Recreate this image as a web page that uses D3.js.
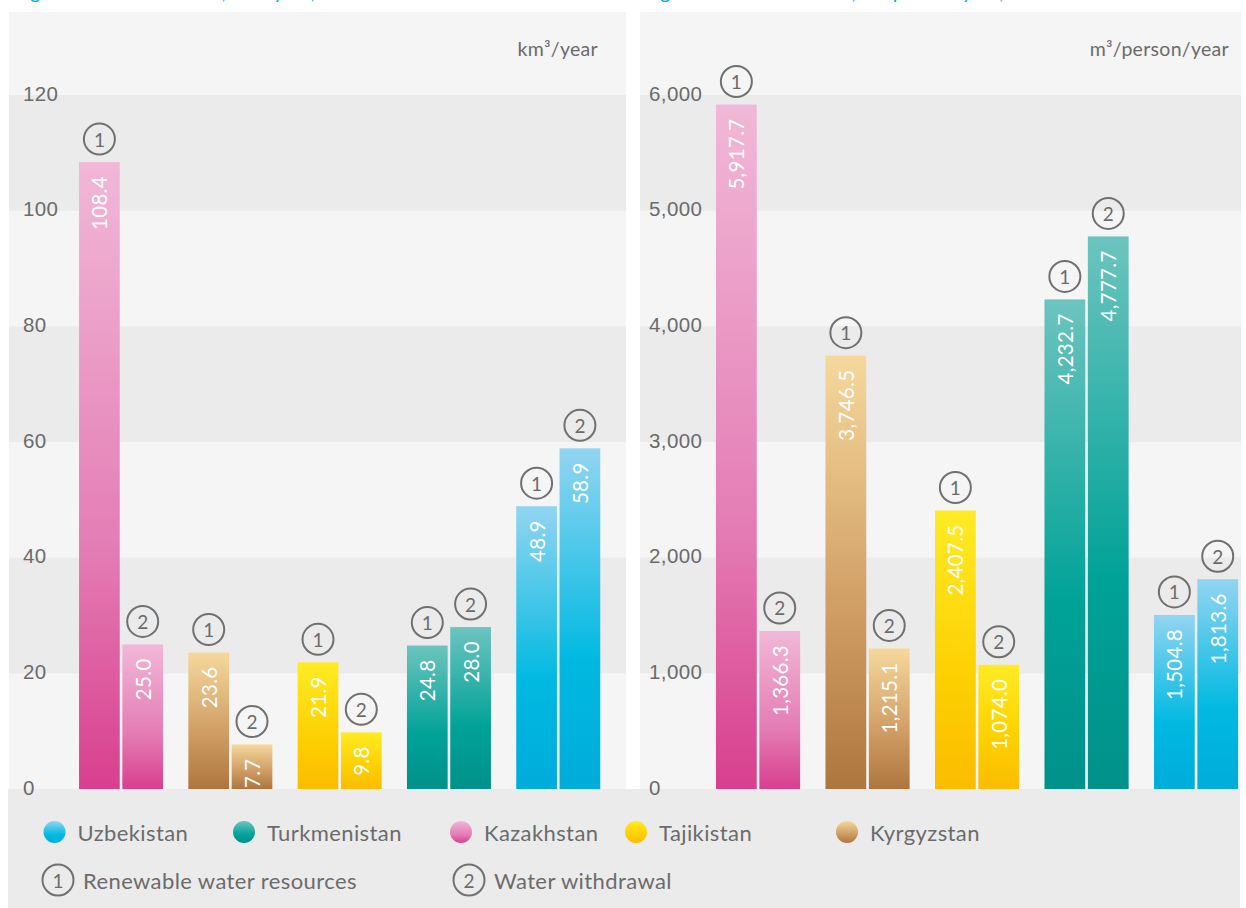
<!DOCTYPE html>
<html>
<head>
<meta charset="utf-8">
<script src="https://cdn.jsdelivr.net/npm/d3@7"></script>
<style>
  body { margin: 0; background: #fff; }
  svg { display: block; font-family: Lato, "Noto Sans", sans-serif; }
</style>
</head>
<body>
<svg id="chart" width="1246" height="908"></svg>
<script>
var countries = ['Kazakhstan', 'Kyrgyzstan', 'Tajikistan', 'Turkmenistan', 'Uzbekistan'];
var volumeRenewable = [108.4, 23.6, 21.9, 24.8, 48.9];
var volumeWithdrawal = [25.0, 7.7, 9.8, 28.0, 58.9];
var perCapitaRenewable = [5917.7, 3746.5, 2407.5, 4232.7, 1504.8];
var perCapitaWithdrawal = [1366.3, 1215.1, 1074.0, 4777.7, 1813.6];
var volumeTicks = [0, 20, 40, 60, 80, 100, 120];
var perCapitaTicks = [0, 1000, 2000, 3000, 4000, 5000, 6000];
var legendOrder = ['Uzbekistan', 'Turkmenistan', 'Kazakhstan', 'Tajikistan', 'Kyrgyzstan'];
var seriesLabels = ['Renewable water resources', 'Water withdrawal'];

// top / middle / bottom colour of each country's gradient
var gradStops = {
  Kazakhstan:   ['#f1b8d7', '#e47cb4', '#d83f8e'],
  Kyrgyzstan:   ['#f6d89c', '#cd9a62', '#ae763f'],
  Tajikistan:   ['#ffeb24', '#fdcf00', '#fbbc00'],
  Turkmenistan: ['#6cc4be', '#00a298', '#00918a'],
  Uzbekistan:   ['#92d5f1', '#00b9e1', '#00acda']
};

var svg = d3.select('#chart');
var textCol = '#6b6b6b';

var defs = svg.append('defs');
countries.forEach(function (c, i) {
  var lg = defs.append('linearGradient')
    .attr('id', 'grad' + i)
    .attr('x1', 0).attr('y1', 0).attr('x2', 0).attr('y2', 1);
  lg.append('stop').attr('offset', '0%').attr('stop-color', gradStops[c][0]);
  lg.append('stop').attr('offset', '62%').attr('stop-color', gradStops[c][1]);
  lg.append('stop').attr('offset', '100%').attr('stop-color', gradStops[c][2]);
});

// titles, cut off at the top edge as in the source
svg.append('text').attr('x', 14).attr('y', -1)
  .attr('fill', '#00a9d8').attr('font-size', 20)
  .text('Figure 3: Water balance, km³/year, 2020');
svg.append('text').attr('x', 644).attr('y', -1)
  .attr('fill', '#00a9d8').attr('font-size', 20)
  .text('Figure 4: Water balance, m³/person/year, 2020');

// legend background
svg.append('rect').attr('x', 8).attr('y', 789).attr('width', 1232).attr('height', 119)
  .attr('fill', '#ebebeb');

function drawPanel(opts) {
  var g = svg.append('g');
  var y = d3.scaleLinear().domain([0, d3.max(opts.ticks)]).range([789, 95]);
  var x = d3.scaleBand().domain(countries).range(opts.xRange)
    .paddingInner(0.2315).paddingOuter(0.2315 / 2);
  var xs = d3.scaleBand().domain([0, 1]).range([0, x.bandwidth()]).paddingInner(0.06);

  g.append('rect').attr('x', opts.left).attr('y', 12)
    .attr('width', opts.right - opts.left).attr('height', 777).attr('fill', '#f5f5f5');

  // alternating bands
  g.selectAll('rect.band')
    .data(opts.ticks.slice(0, -1).filter(function (t, i) { return i % 2 === 1; }))
    .enter().append('rect').attr('class', 'band')
    .attr('x', opts.left).attr('width', opts.right - opts.left)
    .attr('y', function (t) { return y(t + opts.ticks[1]); })
    .attr('height', function (t) { return y(t) - y(t + opts.ticks[1]); })
    .attr('fill', '#ebebeb');

  // axis labels
  var axis = d3.axisLeft(y).tickValues(opts.ticks).tickFormat(opts.tickFmt).tickSize(0);
  var ag = g.append('g').attr('transform', 'translate(' + opts.labelX + ',0)').call(axis);
  ag.select('.domain').remove();
  ag.selectAll('text')
    .attr('text-anchor', 'start').attr('x', 0).attr('dy', '0.25em')
    .attr('fill', textCol).attr('font-size', 20.5).attr('font-family', null)
    .attr('letter-spacing', 0.4);

  g.append('text').attr('x', opts.unitX).attr('y', 56)
    .attr('text-anchor', 'end').attr('fill', textCol).attr('font-size', 19.5)
    .attr('letter-spacing', 0.3)
    .text(opts.unit);

  var rows = [];
  countries.forEach(function (c, i) {
    rows.push({ c: c, i: i, s: 0, v: opts.series[0][i] });
    rows.push({ c: c, i: i, s: 1, v: opts.series[1][i] });
  });

  var bars = g.selectAll('g.bar').data(rows).enter().append('g').attr('class', 'bar')
    .attr('transform', function (d) { return 'translate(' + (x(d.c) + xs(d.s)) + ',0)'; });

  bars.append('rect')
    .attr('y', function (d) { return y(d.v); })
    .attr('width', xs.bandwidth())
    .attr('height', function (d) { return y(0) - y(d.v); })
    .attr('fill', function (d) { return 'url(#grad' + d.i + ')'; });

  var cx = xs.bandwidth() / 2;
  bars.append('text')
    .attr('transform', function (d) { return 'translate(' + cx + ',' + (y(d.v) + 14) + ') rotate(-90)'; })
    .attr('text-anchor', 'end').attr('dominant-baseline', 'central')
    .attr('fill', '#fff').attr('font-size', 20.5).attr('letter-spacing', 0.3)
    .text(function (d) { return opts.valFmt(d.v); });

  bars.append('circle')
    .attr('cx', cx).attr('cy', function (d) { return y(d.v) - 23; }).attr('r', 15.5)
    .attr('fill', 'none').attr('stroke', '#707070').attr('stroke-width', 2);
  bars.append('text')
    .attr('x', cx).attr('y', function (d) { return y(d.v) - 23; })
    .attr('text-anchor', 'middle').attr('dominant-baseline', 'central')
    .attr('fill', textCol).attr('font-size', 19)
    .text(function (d) { return d.s + 1; });
}

drawPanel({
  left: 9, right: 626, labelX: 23, unitX: 598, xRange: [66.4, 612.9],
  ticks: volumeTicks, tickFmt: d3.format('d'), valFmt: d3.format('.1f'),
  unit: 'km³/year', series: [volumeRenewable, volumeWithdrawal]
});
drawPanel({
  left: 640, right: 1241, labelX: 649, unitX: 1229, xRange: [703.3, 1250.8],
  ticks: perCapitaTicks, tickFmt: d3.format(','), valFmt: d3.format(',.1f'),
  unit: 'm³/person/year', series: [perCapitaRenewable, perCapitaWithdrawal]
});

// legend
var legendX = [54.5, 244, 461, 636, 847];
var lg = svg.append('g');
var items = lg.selectAll('g.item').data(legendOrder).enter().append('g')
  .attr('transform', function (d, i) { return 'translate(' + legendX[i] + ',832)'; });
items.append('circle').attr('r', 11)
  .attr('fill', function (d) { return 'url(#grad' + countries.indexOf(d) + ')'; });
items.append('text').attr('x', 23).attr('dominant-baseline', 'central')
  .attr('fill', textCol).attr('font-size', 22).attr('letter-spacing', 0.4)
  .text(function (d) { return d; });

var seriesX = [58, 469];
var sItems = lg.selectAll('g.sitem').data(seriesLabels).enter().append('g')
  .attr('transform', function (d, i) { return 'translate(' + seriesX[i] + ',880)'; });
sItems.append('circle').attr('r', 15.5)
  .attr('fill', 'none').attr('stroke', '#707070').attr('stroke-width', 2);
sItems.append('text').attr('text-anchor', 'middle').attr('dominant-baseline', 'central')
  .attr('fill', textCol).attr('font-size', 19).text(function (d, i) { return i + 1; });
sItems.append('text').attr('x', 25).attr('dominant-baseline', 'central')
  .attr('fill', textCol).attr('font-size', 22).attr('letter-spacing', 0.4)
  .text(function (d) { return d; });
</script>
</body>
</html>
